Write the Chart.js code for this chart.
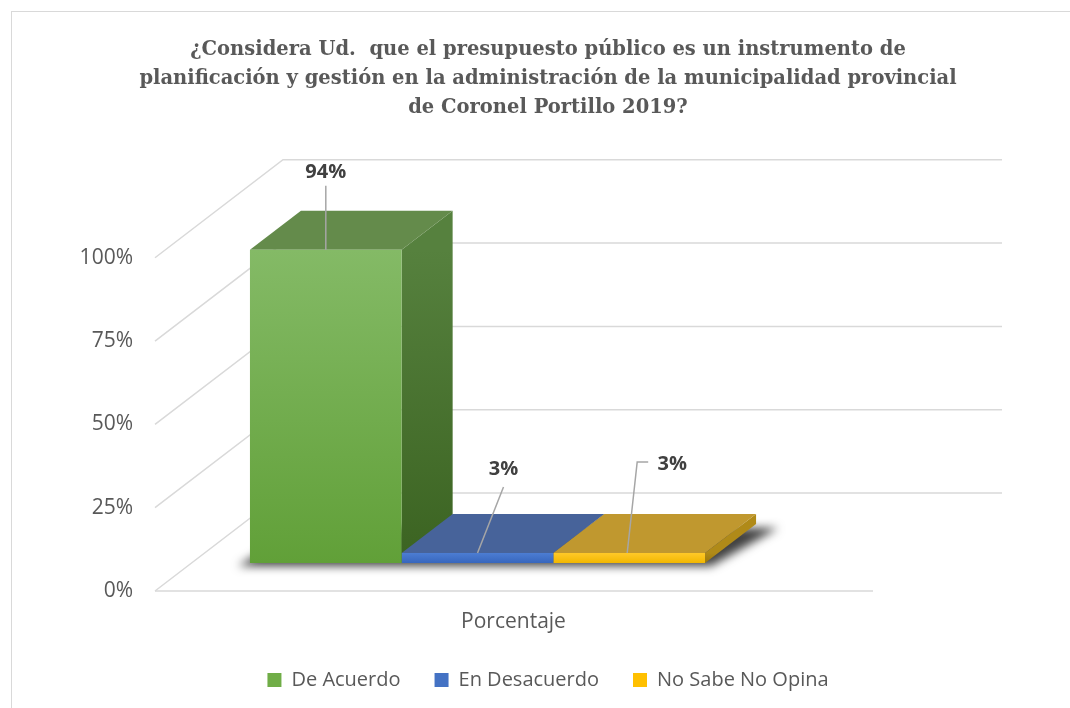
<!DOCTYPE html>
<html>
<head>
<meta charset="utf-8">
<script src="https://cdn.jsdelivr.net/npm/chart.js@4.4.1/dist/chart.umd.min.js"></script>
<style>
  body { margin: 0; background: #fff; overflow: hidden; }
  #wrap { position: relative; width: 1070px; height: 708px; overflow: hidden; }
  #frame { position: absolute; left: 11px; top: 11px; width: 1200px; height: 800px; border: 1px solid #d9d9d9; }
  #graph { position: absolute; left: 0; top: 0; }
</style>
</head>
<body>
<div id="wrap"><div id="frame"></div><canvas id="graph" width="1070" height="708"></canvas></div>
<script>
// data
const categories = ['Porcentaje'];
const series = ['De Acuerdo', 'En Desacuerdo', 'No Sabe No Opina'];
const values = [94, 3, 3];
const yTicks = [0, 25, 50, 75, 100];
const titleLines = [
    '¿Considera Ud.  que el presupuesto público es un instrumento de',
    'planificación y gestión en la administración de la municipalidad provincial',
    'de Coronel Portillo 2019?'
];

// styles
const frontColors = [['#84ba66', '#61a038'], ['#4c7dd3', '#3766bd'], ['#ffc928', '#f2b700']];
const topColors = ['#648b4b', '#47639a', '#c0982f'];
const sideColors = [['#56813e', '#3b6321'], ['#34558f', '#2a4676'], ['#b08a18', '#9a7608']];
const legendColors = ['#70ad47', '#4472c4', '#ffc000'];
const FRONT = [-37, 28];   // front plane offset from bar plane
const BACK = [91, -70];    // back wall offset from bar plane
const DEPTH = [51, -39];   // bar depth
const labelPos = [
    { text: [0, -77], line: [[0, -64], [0, 0]] },
    { text: [26, -84], line: [[26, -66], [0, 0]] },
    { text: [43, -89], line: [[19, -91], [8, -91], [-2, 0]] }
];

function front(ctx) {
    const i = ctx.datasetIndex;
    const y = ctx.chart.scales.y;
    if (!y || ctx.type !== 'data') return legendColors[i];
    const top = y.getPixelForValue(ctx.raw), bottom = y.getPixelForValue(0);
    if (!isFinite(top) || !isFinite(bottom) || top === bottom) return legendColors[i];
    const g = ctx.chart.ctx.createLinearGradient(0, top, 0, bottom);
    g.addColorStop(0, frontColors[i][0]);
    g.addColorStop(1, frontColors[i][1]);
    return g;
}

function poly(c, pts) {
    c.beginPath();
    pts.forEach((p, k) => k ? c.lineTo(p[0], p[1]) : c.moveTo(p[0], p[1]));
    c.closePath();
    c.fill();
}

function barsOf(chart) {
    return chart.data.datasets.map((d, i) =>
        chart.getDatasetMeta(i).data[0].getProps(['x', 'y', 'base', 'width'], true));
}

const walls = {
    id: 'walls',
    beforeDatasetsDraw(chart) {
        const c = chart.ctx, a = chart.chartArea, y = chart.scales.y;
        c.save();
        c.strokeStyle = '#d9d9d9';
        c.lineWidth = 1.5;
        y.ticks.forEach(t => {
            const py = y.getPixelForValue(t.value);
            c.beginPath();
            c.moveTo(a.left + FRONT[0], py + FRONT[1]);
            c.lineTo(a.left + BACK[0], py + BACK[1]);
            c.lineTo(a.right + 239, py + BACK[1]);
            c.stroke();
        });
        const p0 = y.getPixelForValue(0);
        c.beginPath();
        c.moveTo(a.left + FRONT[0], p0 + FRONT[1]);
        c.lineTo(a.right + 110, p0 + FRONT[1]);
        c.stroke();

        const bars = barsOf(chart);
        const l = bars[0].x - bars[0].width / 2;
        const last = bars[bars.length - 1];
        const r = last.x + last.width / 2;
        const base = bars[0].base;
        // soft shadow under the bars (shape drawn off-canvas, only its shadow shows)
        const off = 5000;
        c.save();
        c.shadowColor = 'rgba(0,0,0,0.75)';
        c.shadowBlur = 10;
        c.shadowOffsetX = off;
        c.fillStyle = '#000';
        poly(c, [[l - 12 - off, base + 3], [r + 6 - off, base + 3], [r + DEPTH[0] + 22 - off, base + DEPTH[1] + 4], [l + DEPTH[0] - off, base + DEPTH[1] + 4]]);
        c.restore();

        bars.forEach((b, i) => {
            const bl = b.x - b.width / 2, br = b.x + b.width / 2;
            const g = c.createLinearGradient(0, b.y, 0, b.base);
            g.addColorStop(0, sideColors[i][0]);
            g.addColorStop(1, sideColors[i][1]);
            c.fillStyle = g;
            poly(c, [[br, b.y], [br + DEPTH[0], b.y + DEPTH[1]], [br + DEPTH[0], b.base + DEPTH[1]], [br, b.base]]);
            c.fillStyle = topColors[i];
            poly(c, [[bl, b.y], [bl + DEPTH[0], b.y + DEPTH[1]], [br + DEPTH[0], b.y + DEPTH[1]], [br, b.y]]);
        });
        c.restore();
    }
};

const labels = {
    id: 'labels',
    afterDatasetsDraw(chart) {
        const c = chart.ctx;
        c.save();
        barsOf(chart).forEach((b, i) => {
            const p = labelPos[i];
            c.strokeStyle = '#a6a6a6';
            c.lineWidth = 1.5;
            c.beginPath();
            p.line.forEach((q, k) => k ? c.lineTo(b.x + q[0], b.y + q[1]) : c.moveTo(b.x + q[0], b.y + q[1]));
            c.stroke();
            c.fillStyle = '#404040';
            c.font = 'bold 20px "Open Sans"';
            c.textAlign = 'center';
            c.textBaseline = 'middle';
            c.fillText(values[i] + '%', b.x + p.text[0], b.y + p.text[1]);
        });
        c.restore();
    }
};

new Chart(document.getElementById('graph'), {
    type: 'bar',
    data: {
        labels: categories,
        datasets: series.map((s, i) => ({
            label: s,
            data: [values[i]],
            backgroundColor: front,
            borderWidth: 0,
            categoryPercentage: 0.797,
            barPercentage: 1
        }))
    },
    options: {
        responsive: false,
        animation: false,
        layout: { padding: { left: 26, right: 0, top: 0, bottom: 8 } },
        scales: {
            x: {
                grid: { display: false, drawTicks: false },
                border: { display: false },
                ticks: { color: '#595959', font: { family: 'Open Sans', size: 21 }, padding: 46, labelOffset: 36 },
                afterFit: s => { s.height = 73; }
            },
            y: {
                min: 0,
                max: 100,
                grid: { display: false, drawTicks: false },
                border: { display: false },
                afterBuildTicks: s => { s.ticks = yTicks.map(v => ({ value: v })); },
                ticks: {
                    color: '#595959', font: { family: 'Open Sans', size: 21 },
                    padding: 59, labelOffset: 28,
                    callback: v => v + '%'
                },
                afterFit: s => { s.width = 166; }
            },
            y2: {
                position: 'right',
                display: true,
                grid: { display: false },
                border: { display: false },
                ticks: { display: false },
                afterFit: s => { s.width = 307; }
            }
        },
        plugins: {
            title: {
                display: true,
                text: titleLines,
                color: '#595959',
                font: { family: 'DejaVu Serif', size: 19.5, weight: 'bold', lineHeight: 1.5 },
                padding: { top: 35, bottom: 107 }
            },
            legend: {
                position: 'bottom',
                labels: {
                    color: '#595959',
                    font: { family: 'Open Sans', size: 20 },
                    boxWidth: 14,
                    boxHeight: 14,
                    padding: 34,
                    generateLabels: chart => Chart.defaults.plugins.legend.labels.generateLabels(chart)
                        .map((l, i) => Object.assign(l, { fillStyle: legendColors[i], lineWidth: 0, strokeStyle: legendColors[i] }))
                }
            },
            tooltip: { enabled: false }
        }
    },
    plugins: [walls, labels]
});
</script>
</body>
</html>
